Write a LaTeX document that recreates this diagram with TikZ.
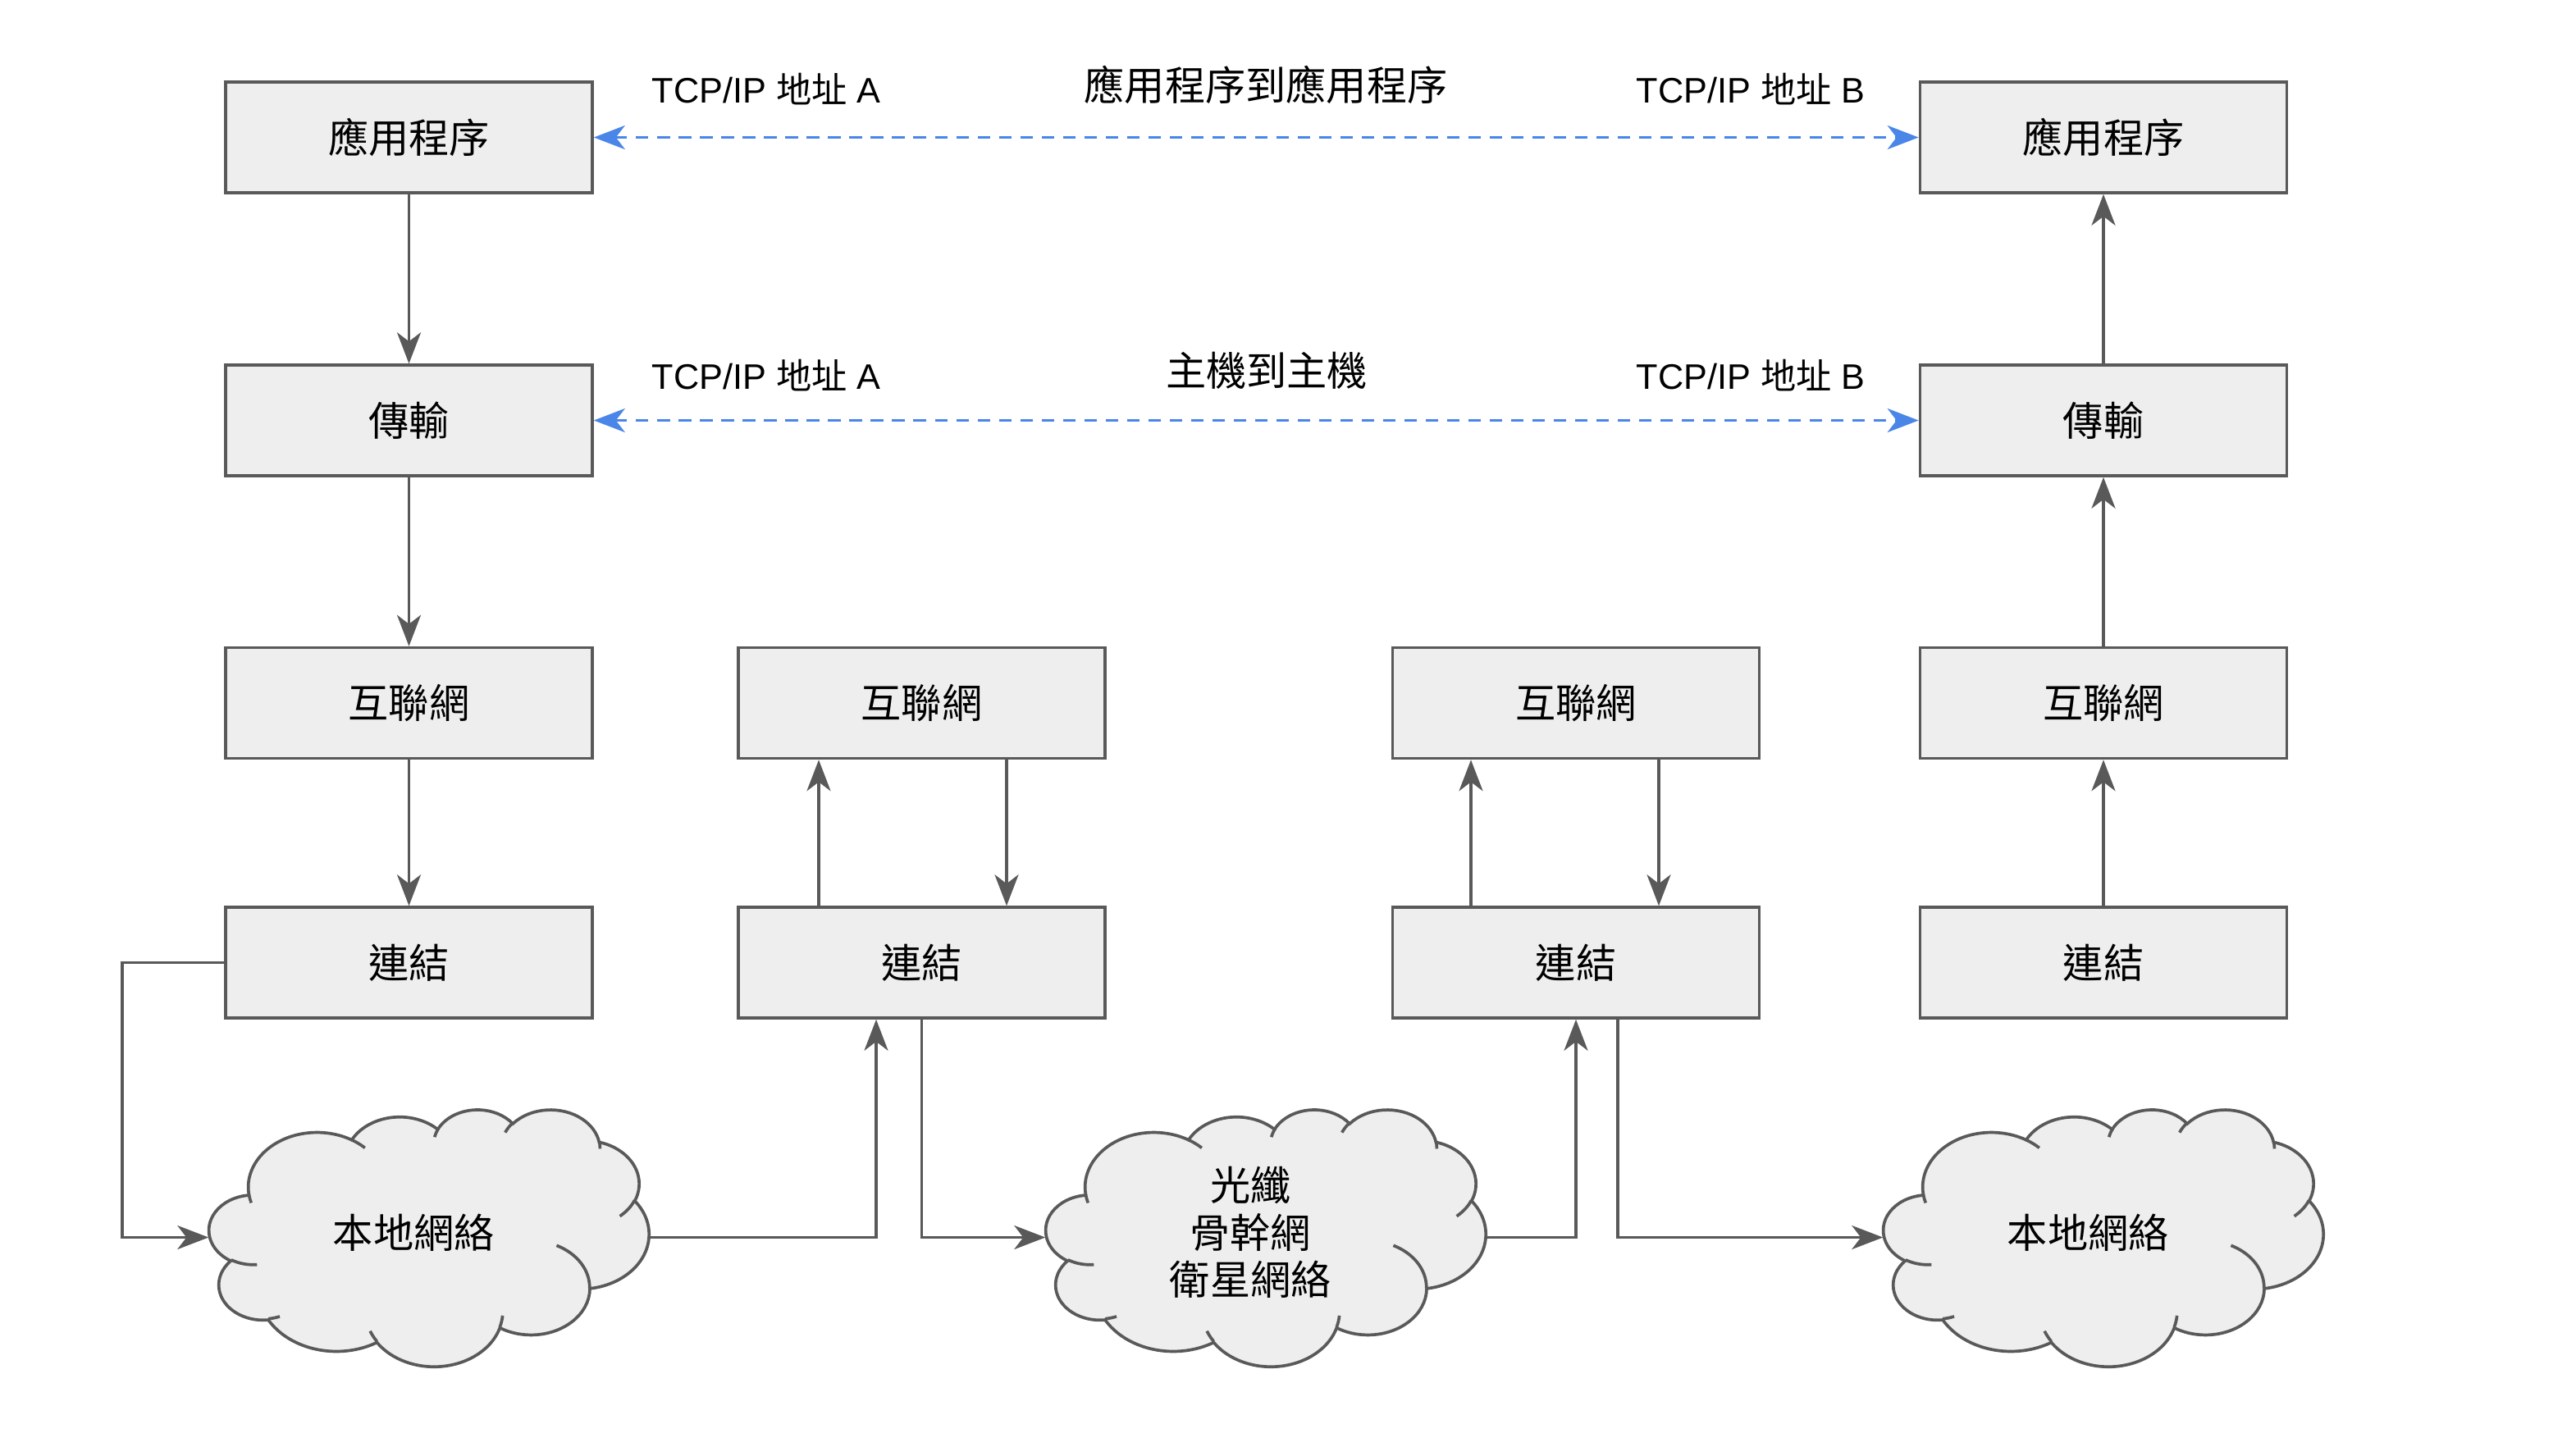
\documentclass[tikz,border=0pt]{standalone}
\usepackage{fontspec}
\setmainfont{Liberation Sans}
\newfontfamily\cjk{Noto Sans CJK TC}
\usepackage{tikz}
\usetikzlibrary{arrows.meta}
\usetikzlibrary{positioning}
\definecolor{linegray}{HTML}{595959}
\definecolor{boxfill}{HTML}{EEEEEE}
\definecolor{peerblue}{HTML}{4A86E8}

\newcommand\cloudarc[4]{%
  \pgfextra{%
    \pgfmathsetmacro\cloudas{atan2(#1*sin(#3),#2*cos(#3))}%
    \pgfmathsetmacro\cloudae{atan2(#1*sin(#3+#4),#2*cos(#3+#4))}%
    \pgfmathsetmacro\cloudad{mod(\cloudae-\cloudas+720,360)}%
  }%
  arc[x radius=#1, y radius=#2, start angle=\cloudas, delta angle=\cloudad]}

\tikzset{
  layer/.style={draw=linegray, fill=boxfill, line width=1pt, minimum width=4.47cm, minimum height=1.35cm, inner sep=0pt, font=\cjk\fontsize{14}{17}\selectfont},
  cloudbox/.style={minimum width=5.36cm, minimum height=3.13cm, inner sep=0pt},
  cloudtext/.style={align=center, inner sep=0pt, font=\cjk\fontsize{14}{16.4}\selectfont},
  relation/.style={inner sep=0pt, font=\cjk\fontsize{14}{17}\selectfont},
  addr/.style={inner sep=0pt, font=\fontsize{12.3}{15}\selectfont},
  flow/.style={draw=linegray, line width=1.05pt, -{Stealth[length=3.8mm, width=2.9mm, inset=1.1mm]}},
  peer/.style={draw=peerblue, line width=1.05pt, dash pattern=on 4.3pt off 3.1pt, {Stealth[length=3.8mm, width=2.9mm, inset=1.1mm]}-{Stealth[length=3.8mm, width=2.9mm, inset=1.1mm]}},
  pics/netcloud/.style={code={
    \begin{scope}[x=0.012407cm, y=-0.0072454cm, shift={(-216,-216)}, line width=1.05pt]
      \path[draw=linegray, fill=boxfill] (39,143.7)
        \cloudarc{67.53}{91.90}{-190.4875}{123.7805}
        \cloudarc{53.33}{72.67}{-144.1024}{89.9452}
        \cloudarc{43.65}{59.45}{-145.8079}{99.7230}
        \cloudarc{48.57}{65.95}{-130.9861}{117.2417}
        \cloudarc{53.33}{72.73}{-78.7089}{109.0269}
        \cloudarc{67.75}{92.20}{-46.2673}{130.2690}
        \cloudarc{57.85}{78.67}{0.6250}{114.0333}
        \cloudarc{67.52}{92.15}{22.4516}{115.1726}
        \cloudarc{77.20}{105.43}{66.2426}{75.7110}
        \cloudarc{43.60}{59.18}{-274.9421}{146.7356}
        \cloudarc{43.45}{59.45}{-246.8285}{152.5189} -- cycle;
      \draw[linegray]
        (46.93,261.77) \cloudarc{43.45}{59.45}{86.742}{26.4295}
        (69.28,348.99) \cloudarc{43.60}{59.18}{73.6105}{11.4475}
        (164.78,390.90) \cloudarc{67.52}{92.15}{137.6242}{14.0811}
        (288.27,347.51) \cloudarc{67.52}{92.15}{6.4533}{15.9984}
        (341.29,229.54) \cloudarc{57.85}{78.67}{-70.2924}{70.9174}
        (417.98,153.54) \cloudarc{53.33}{72.73}{30.3180}{27.7515}
        (383.24,54.26) \cloudarc{48.57}{65.95}{-13.7443}{14.8589}
        (290.78,39.52) \cloudarc{48.57}{65.95}{-149.1815}{18.1954}
        (221.41,47.20) \cloudarc{43.65}{59.45}{-163.4943}{17.6864}
        (140.00,51.92) \cloudarc{67.53}{91.90}{-66.7070}{12.3194}
        (41.27,157.89) \cloudarc{67.53}{91.90}{157.6544}{11.8582};
    \end{scope}
  }}
}

\begin{document}
\begin{tikzpicture}
\useasboundingbox (0,0) rectangle (31.12,-17.74);

\node[layer] (app1) at (4.985,-1.675) {應用程序};
\node[layer] (trans1) at (4.985,-5.125) {傳輸};
\node[layer] (inet1) at (4.985,-8.57) {互聯網};
\node[layer] (link1) at (4.985,-11.735) {連結};

\node[layer] (inet2) at (11.235,-8.57) {互聯網};
\node[layer] (link2) at (11.235,-11.735) {連結};

\node[layer] (inet3) at (19.21,-8.57) {互聯網};
\node[layer] (link3) at (19.21,-11.735) {連結};

\node[layer] (app4) at (25.64,-1.675) {應用程序};
\node[layer] (trans4) at (25.64,-5.125) {傳輸};
\node[layer] (inet4) at (25.64,-8.57) {互聯網};
\node[layer] (link4) at (25.64,-11.735) {連結};

\pic at (5.23,-15.085) {netcloud};
\node[cloudbox] (lan1) at (5.23,-15.085) {};
\node[cloudtext] (lan1txt) at ([xshift=-1.88mm, yshift=0.6mm]lan1.center) {本地網絡};
\pic at (15.43,-15.085) {netcloud};
\node[cloudbox] (core) at (15.43,-15.085) {};
\node[cloudtext] (coretxt) at ([xshift=-1.88mm, yshift=0.6mm]core.center) {光纖\\骨幹網\\衛星網絡};
\pic at (25.64,-15.085) {netcloud};
\node[cloudbox] (lan2) at (25.64,-15.085) {};
\node[cloudtext] (lan2txt) at ([xshift=-1.88mm, yshift=0.6mm]lan2.center) {本地網絡};

\node[addr] (addrA1) at (9.34,-1.09) {TCP/IP {\cjk 地址} A};
\node[relation] (app2app) at (15.43,-1.03) {應用程序到應用程序};
\node[addr] (addrB1) at (21.34,-1.09) {TCP/IP {\cjk 地址} B};
\node[addr] (addrA2) at (9.34,-4.58) {TCP/IP {\cjk 地址} A};
\node[relation] (host2host) at (15.44,-4.52) {主機到主機};
\node[addr] (addrB2) at (21.34,-4.58) {TCP/IP {\cjk 地址} B};

\draw[peer] (app1) -- (app4);
\draw[peer] (trans1) -- (trans4);

\draw[flow] (app1) -- (trans1);
\draw[flow] (trans1) -- (inet1);
\draw[flow] (inet1) -- (link1);
\draw[flow] (link1.west) -- ++(-1.24,0) |- (lan1.west);
\draw[flow] (lan1.east) -| ([xshift=-5.55mm]link2.south);
\draw[flow] ([xshift=-12.55mm]link2.north) -- ([xshift=-12.55mm]inet2.south);
\draw[flow] ([xshift=10.35mm]inet2.south) -- ([xshift=10.35mm]link2.north);
\draw[flow] (link2.south) |- (core.west);
\draw[flow] (core.east) -| (link3.south);
\draw[flow] ([xshift=-12.8mm]link3.north) -- ([xshift=-12.8mm]inet3.south);
\draw[flow] ([xshift=10.1mm]inet3.south) -- ([xshift=10.1mm]link3.north);
\draw[flow] ([xshift=5.1mm]link3.south) |- (lan2.west);
\draw[flow] (link4) -- (inet4);
\draw[flow] (inet4) -- (trans4);
\draw[flow] (trans4) -- (app4);
\end{tikzpicture}
\end{document}
